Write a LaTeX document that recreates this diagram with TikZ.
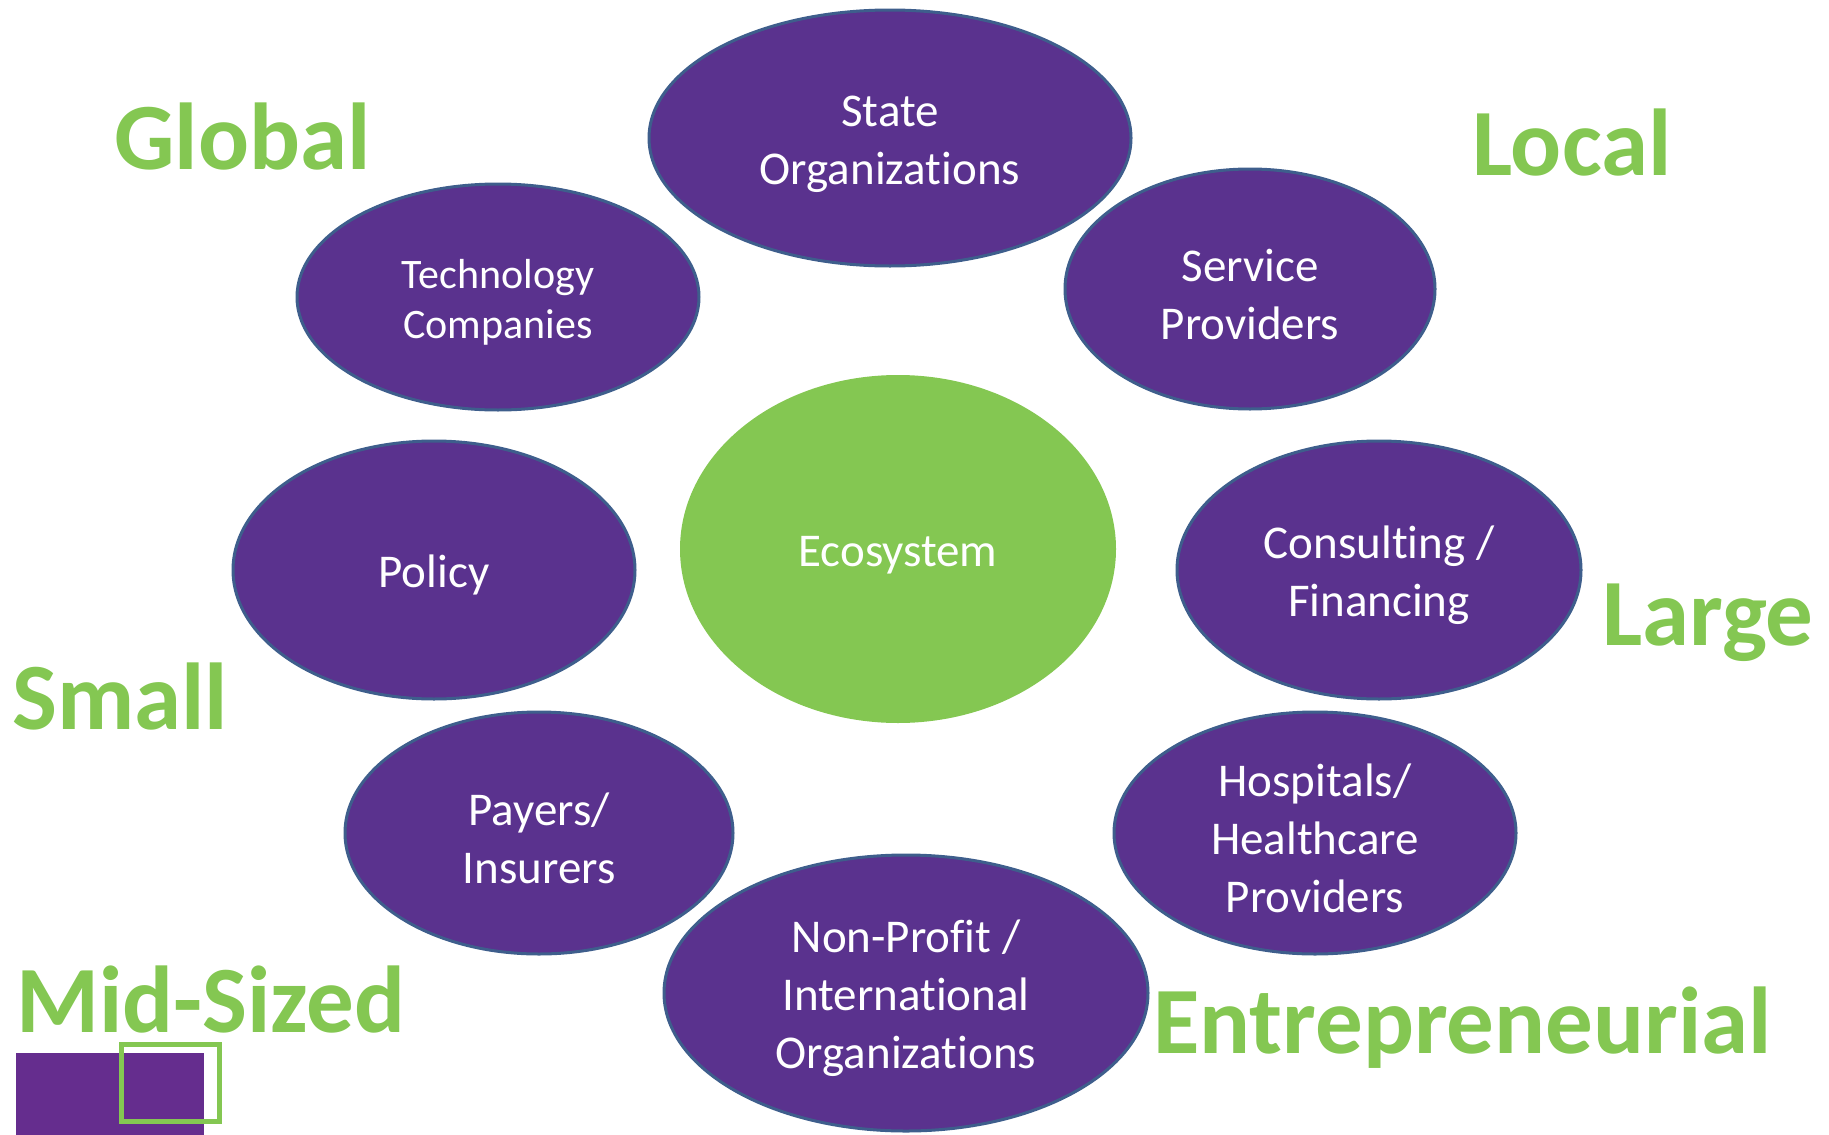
\documentclass[tikz,border=0pt]{standalone}
\usepackage{fontspec}
\setmainfont{Carlito}[RawFeature = {-liga;-clig;-calt}]
\usepackage{tikz}
\usetikzlibrary{shapes.geometric}
\definecolor{ecopurple}{RGB}{90,50,142}
\definecolor{ecoedge}{RGB}{62,94,140}
\definecolor{ecogreen}{RGB}{132,199,82}
\definecolor{boxpurple}{RGB}{101,45,142}
\newcommand\lift[1][43pt]{\rule{0pt}{#1}}
\tikzset{actor/.style = {ellipse, draw = ecoedge, line width = 3, fill = ecopurple, text = white, align = center, inner sep = 0, font = \fontsize{47}{58}\selectfont}}
\tikzset{scale label/.style = {anchor = base west, inner sep = 0, text = ecogreen, font = \fontsize{95}{110}\selectfont\bfseries}}

\begin{document}
\begin{tikzpicture}[x = 1pt, y = -1pt]
    \useasboundingbox (0, 0) rectangle (1829, 1135);

    \node (state) at (890, 138) [actor, minimum width = 482, minimum height = 256] {\lift State\\Organizations};
    \node (tech) at (498, 297) [actor, minimum width = 402, minimum height = 226, font = \fontsize{42}{50}\selectfont] {\lift[39pt]Technology\\Companies};
    \node (service) at (1250, 289) [actor, minimum width = 370, minimum height = 240] {\lift Service\\Providers};
    \node (eco) at (898, 549) [actor, draw = none, fill = ecogreen, minimum width = 436, minimum height = 348] {\lift Ecosystem};
    \node (policy) at (434, 570) [actor, minimum width = 402, minimum height = 258] {\lift Policy};
    \node (consult) at (1379, 570) [actor, minimum width = 404, minimum height = 258] {\lift Consulting /\\Financing};
    \node (payers) at (539, 833) [actor, minimum width = 388, minimum height = 242] {\lift Payers/\\Insurers};
    \node (hosp) at (1315, 833) [actor, minimum width = 402, minimum height = 242] {\lift Hospitals/\\Healthcare\\Providers};
    \node (nonprofit) at (906, 993) [actor, minimum width = 484, minimum height = 276] {\lift Non-Profit /\\International\\Organizations};

    \node (global) at (114, 169) [scale label] {Global};
    \node (local) at (1472, 175) [scale label] {Local};
    \node (large) at (1602, 645) [scale label] {Large};
    \node (small) at (12, 729) [scale label] {Small};
    \node (midsized) at (16, 1032) [scale label] {Mid-Sized};
    \node (entre) at (1153, 1053) [scale label] {Entrepreneurial};

    % corner squares
    \fill [boxpurple] (16, 1053) rectangle (204, 1135);
    \draw [ecogreen, line width = 5] (121.5, 1044.5) rectangle (219.5, 1121);
\end{tikzpicture}
\end{document}
